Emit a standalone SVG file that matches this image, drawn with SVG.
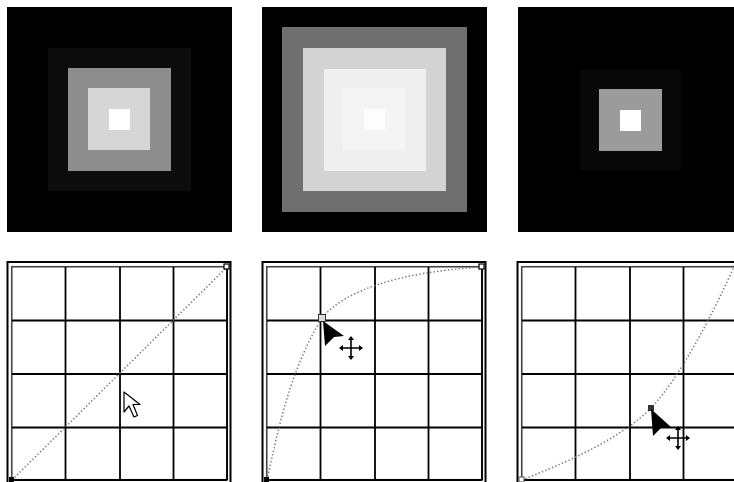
<svg xmlns="http://www.w3.org/2000/svg" width="734" height="482" viewBox="0 0 734 482">
<defs>
<style>
.frame{fill:#fff;stroke:#000;stroke-width:2}
.inner{fill:#fff;stroke:#444;stroke-width:1.6}
.grid{stroke:#000;stroke-width:1.8;fill:none}
.curve{fill:none;stroke:#777;stroke-width:1.5;stroke-dasharray:1.4 2.2}
.pt{fill:#ddd;stroke:#333;stroke-width:1}
.cross{stroke:#000;stroke-width:1.6;fill:none}
</style>
<g id="gridlines">
<rect class="frame" x="7.5" y="262" width="223" height="222"/>
<rect class="inner" x="11.75" y="266.75" width="215.5" height="213"/>
<path class="grid" d="M65.5,267V480M120,267V480M173.5,267V480M12,320.5H227M12,374H227M12,427.5H227"/>
<path class="grid" d="M12,480H227M227,267V480"/>
</g>
<g id="crossArrow">
<path class="cross" d="M-11,0H11M0,-11V11"/>
<path d="M-12,0l4,-3v6zM12,0l-4,-3v6zM0,-12l-3,4h6zM0,12l-3,-4h6z" fill="#000"/>
</g>
</defs>

<g id="image-1">
<rect x="7" y="7" width="225" height="225" fill="#000"/>
<rect x="48" y="48" width="143" height="143" fill="#0c0c0c"/>
<rect x="68" y="68" width="103" height="103" fill="#8d8d8d"/>
<rect x="88" y="88" width="62" height="62" fill="#d6d6d6"/>
<rect x="109" y="109" width="21" height="21" fill="#fff"/>
</g>

<g id="image-2">
<rect x="262" y="7" width="225" height="225" fill="#000"/>
<rect x="282" y="27" width="185" height="185" fill="#6f6f6f"/>
<rect x="303" y="48" width="143" height="143" fill="#d3d3d3"/>
<rect x="324" y="69" width="102" height="102" fill="#efefef"/>
<rect x="343" y="88" width="62" height="62" fill="#f4f4f4"/>
<rect x="364" y="109" width="21" height="21" fill="#fdfdfd"/>
</g>

<g id="image-3">
<rect x="518" y="7" width="225" height="225" fill="#000"/>
<rect x="580" y="70" width="101" height="100" fill="#080808"/>
<rect x="599" y="89" width="63" height="62" fill="#9b9b9b"/>
<rect x="620" y="110" width="21" height="21" fill="#fff"/>
</g>

<g id="curve-1">
<use href="#gridlines"/>
<path class="curve" d="M12,480L227,267"/>
<rect x="224" y="264" width="5" height="5" fill="#fff" stroke="#000" stroke-width="1.2"/>
<rect x="9" y="477" width="5" height="5" fill="#000"/>
<path d="M124,392L124,412L129,406L134,417L137.5,415.5L133,404.5L140,404.5Z" fill="#fff" stroke="#000" stroke-width="1.2" stroke-linejoin="round"/>
</g>

<g id="curve-2">
<use href="#gridlines" x="255"/>
<path class="curve" d="M267,480C278,430 290,370 322,318C345,290 400,272 482,267"/>
<rect x="318.5" y="314.5" width="7" height="7" class="pt"/>
<rect x="479" y="264" width="5" height="5" fill="#fff" stroke="#000" stroke-width="1.2"/>
<rect x="264" y="477" width="5" height="5" fill="#000"/>
<path d="M323,321L344,336L334,337L325,346Z" fill="#000"/>
<use href="#crossArrow" x="351" y="348"/>
</g>

<g id="curve-3">
<use href="#gridlines" x="510"/>
<path class="curve" d="M522,480C560,465 620,440 651,408C680,378 715,310 736,262"/>
<rect x="519" y="477" width="5" height="5" fill="#fff" stroke="#555" stroke-width="1"/>
<rect x="648" y="405" width="6" height="6" fill="#333"/>
<path d="M651,409L671,427L661,428L653,436Z" fill="#000"/>
<use href="#crossArrow" x="678" y="438"/>
</g>
</svg>
